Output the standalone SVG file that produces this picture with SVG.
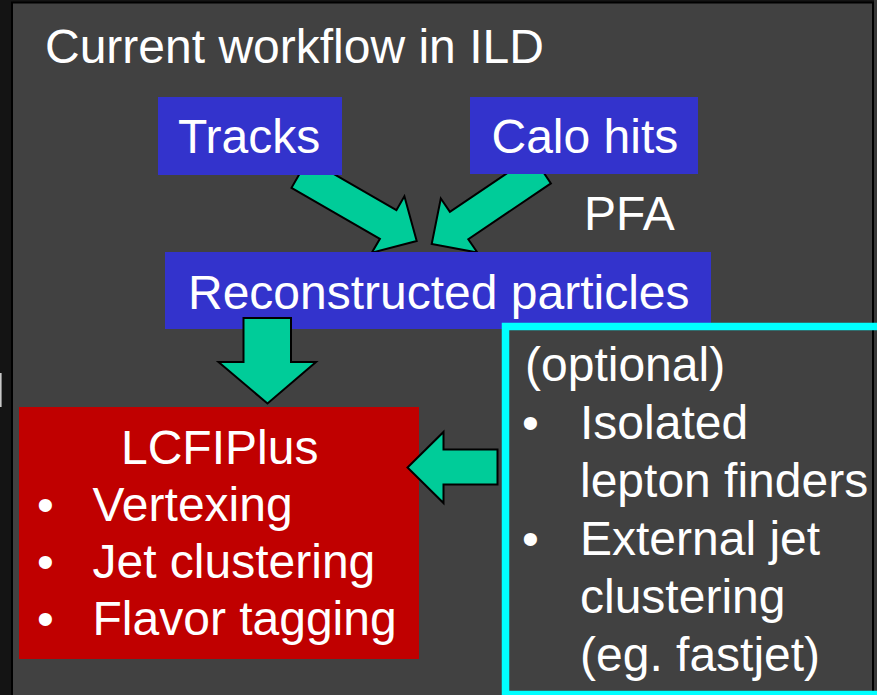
<svg xmlns="http://www.w3.org/2000/svg" width="877" height="695" viewBox="0 0 877 695">
  <style>
    .t { font-family: "Liberation Sans", Arial, sans-serif; font-size: 48px; fill: #ffffff; }
    .blue { fill: #3333CC; }
    .arrow { fill: #00CC99; stroke: #000000; stroke-width: 2; stroke-linejoin: miter; }
  </style>
  <rect x="0" y="0" width="877" height="695" fill="#141414"/>
  <rect x="874" y="0" width="3" height="695" fill="#383838"/>
  <rect x="0" y="373" width="1.6" height="34" fill="#c8c8c8"/>
  <rect id="panel" x="12" y="2.5" width="861" height="700" fill="#414141" stroke="#000000" stroke-width="2"/>

  <g id="title">
    <text class="t" x="45" y="63">Current workflow in ILD</text>
  </g>

  <g id="connectors-pfa">
    <polygon class="arrow" points="308,159.2 396.4,210.2 404.4,196.3 416.7,241 371.8,252.7 379.9,238.8 291.5,187.8"/>
    <polygon class="arrow" points="532.5,156 449.9,211.8 440.8,198.5 431.7,244 477.4,252.5 468.3,239.2 550.9,183.4"/>
  </g>

  <g id="tracks">
    <rect class="blue" x="158" y="97" width="184" height="78"/>
    <text class="t" x="178" y="153">Tracks</text>
  </g>

  <g id="calo-hits">
    <rect class="blue" x="470" y="97" width="228" height="77"/>
    <text class="t" x="491.5" y="153">Calo hits</text>
  </g>

  <g id="pfa-label">
    <text class="t" x="584" y="230">PFA</text>
  </g>

  <g id="reconstructed-particles">
    <rect class="blue" x="165" y="252" width="546" height="77"/>
    <text class="t" x="188" y="309">Reconstructed particles</text>
  </g>

  <g id="lcfiplus">
    <rect x="19" y="407" width="400" height="252" fill="#C00000"/>
    <text class="t" x="121" y="464">LCFIPlus</text>
    <text class="t" x="37" y="520.5">•</text>
    <text class="t" x="92.5" y="520.5">Vertexing</text>
    <text class="t" x="37" y="577.5">•</text>
    <text class="t" x="92.5" y="577.5">Jet clustering</text>
    <text class="t" x="37" y="635">•</text>
    <text class="t" x="92.5" y="635">Flavor tagging</text>
  </g>

  <g id="optional">
    <rect x="505.5" y="326.5" width="380" height="368" fill="none" stroke="#00FFFF" stroke-width="7.5"/>
    <text class="t" x="525" y="381">(optional)</text>
    <text class="t" x="522" y="439">•</text>
    <text class="t" x="580" y="439">Isolated</text>
    <text class="t" x="580" y="497">lepton finders</text>
    <text class="t" x="522" y="555">•</text>
    <text class="t" x="580" y="555">External jet</text>
    <text class="t" x="580" y="613">clustering</text>
    <text class="t" x="580" y="671">(eg. fastjet)</text>
  </g>

  <g id="connectors">
    <polygon class="arrow" points="243.5,318 291,318 291,362 316,362 267.5,403.5 218.5,362 243.5,362"/>
    <polygon class="arrow" points="497.5,449.5 443.5,449.5 443.5,432 407.5,467.5 443.5,503 443.5,484.5 497.5,484.5"/>
  </g>
</svg>
